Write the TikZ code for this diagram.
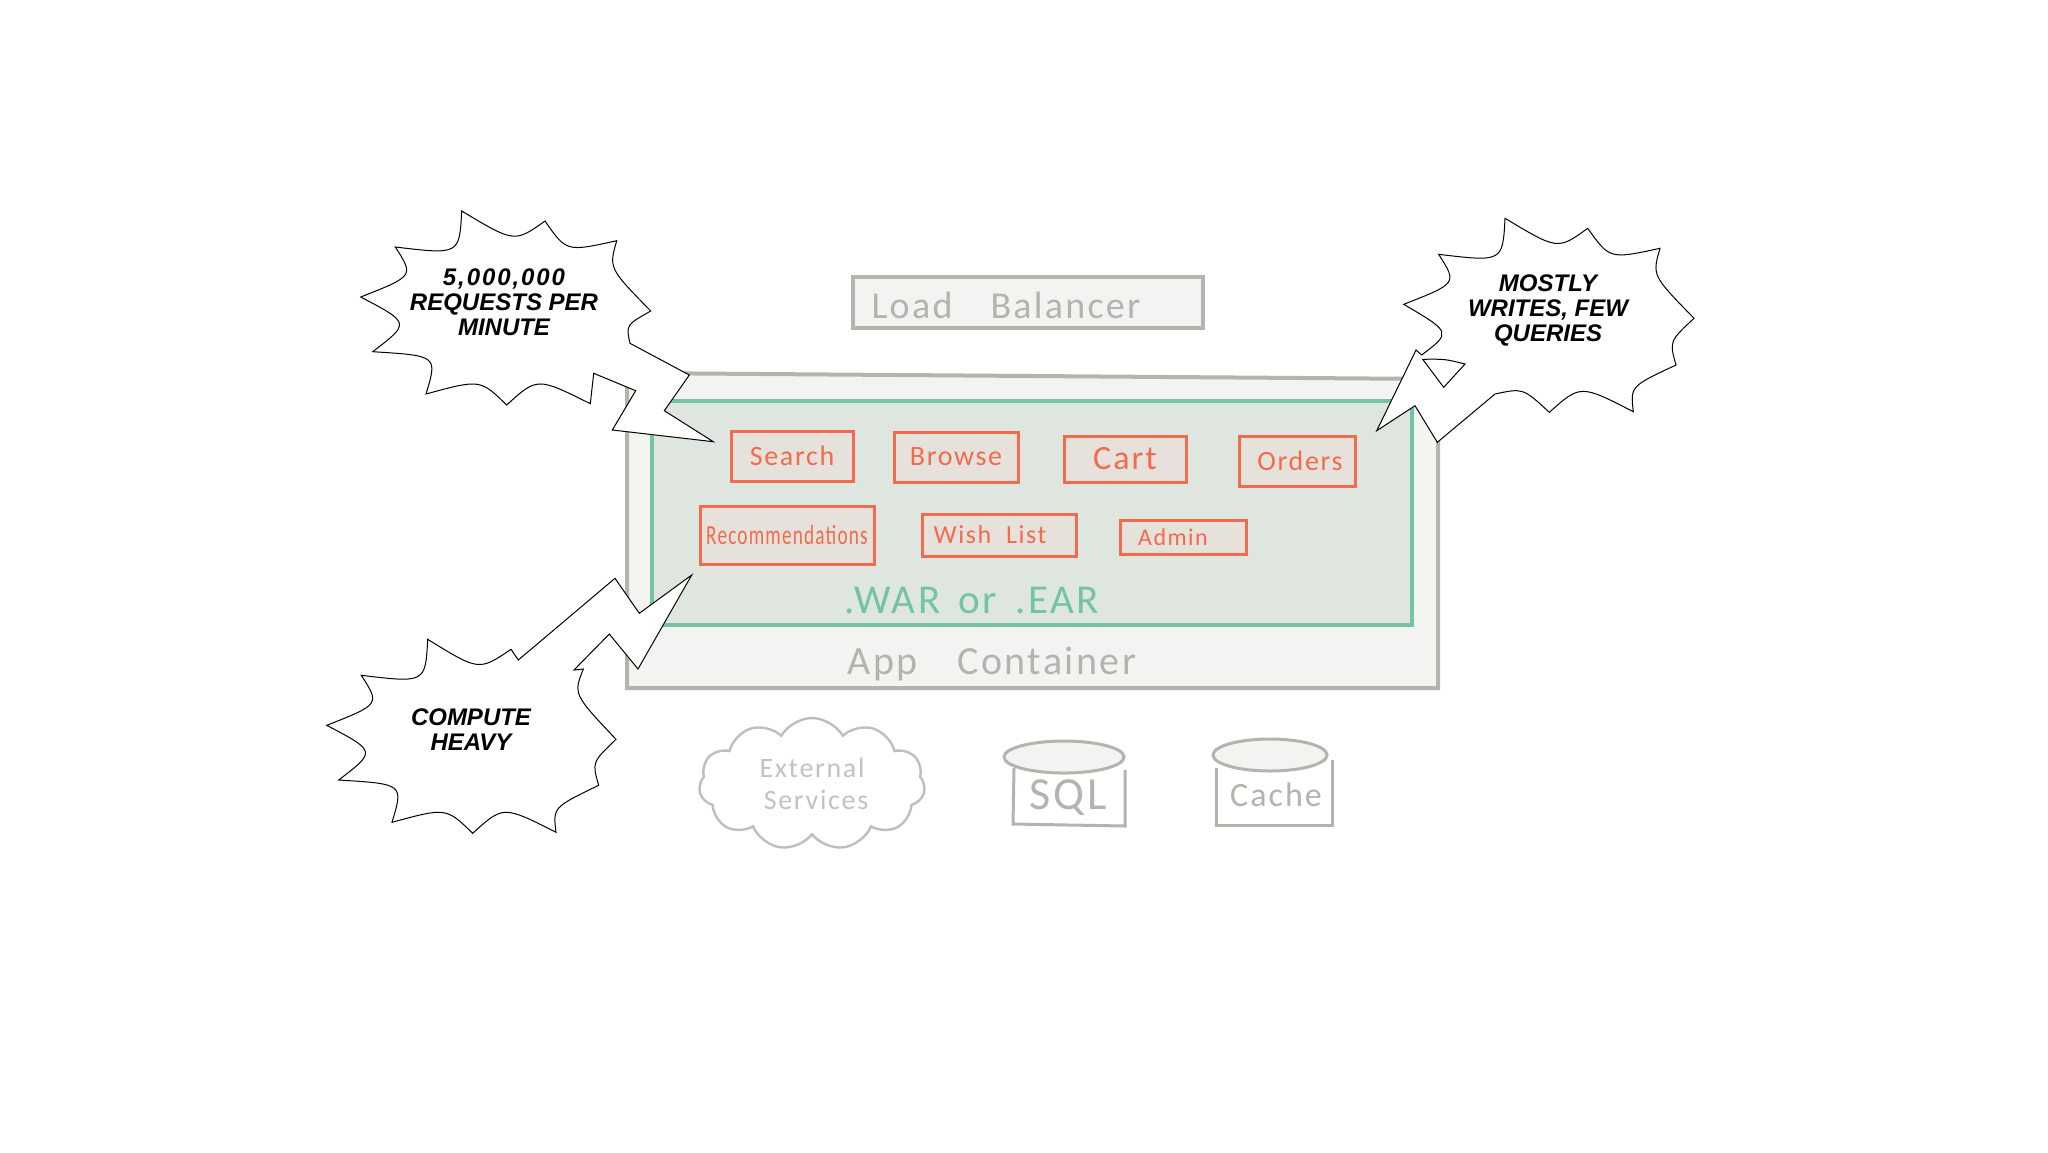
\documentclass[tikz,border=0pt]{standalone}
\usepackage{fontspec}
\setmainfont{Carlito}
\newfontfamily\sketchfont[LetterSpace=6]{Carlito}
\newfontfamily\comicfont{Liberation Sans}
\usetikzlibrary{shapes.geometric,shapes.symbols}
\definecolor{shellgray}{HTML}{B4B4AE}
\definecolor{shellfill}{HTML}{F3F3F1}
\definecolor{warfill}{HTML}{DFE6E0}
\definecolor{wargreen}{HTML}{72C4A5}
\definecolor{svcred}{HTML}{F26B4C}
\definecolor{svcfill}{HTML}{E6E1DB}
\begin{document}
\begin{tikzpicture}[x=0.5pt,y=-0.5pt]
  \tikzstyle{shell}=[draw=shellgray,fill=shellfill,line width=2pt,text=shellgray,font=\sketchfont\fontsize{17}{19}\selectfont]
  \tikzstyle{svc}=[draw=svcred,fill=svcfill,line width=1.5pt,text=svcred,inner sep=0pt,font=\sketchfont\fontsize{14}{16}\selectfont]
  \tikzstyle{store}=[draw=shellgray,line width=1.5pt]
  \tikzstyle{storetop}=[ellipse,draw=shellgray,fill=shellfill,line width=1.5pt,inner sep=0pt]
  \tikzstyle{burst}=[draw=black,fill=white,line width=0.5pt,line join=miter]
  \tikzstyle{shout}=[align=center,text=black,inner sep=0pt,font=\comicfont\bfseries\itshape\fontsize{12}{12.5}\selectfont]
  \useasboundingbox (0,0) rectangle (2048,1152);
  \fill[white] (0,0) rectangle (2048,1152);
  \node[shell,minimum width=175pt,minimum height=25.5pt,inner sep=0pt] (balancer) at (1028,302) {};
  \node[text=shellgray,font=\sketchfont\fontsize{19}{21}\selectfont] (balancerlabel) at (1006,305) {Load\quad Balancer};
  \draw[shell] (627,373) -- (1438,379) -- (1438,688) -- (627,688) -- cycle;
  \node[draw=wargreen,fill=warfill,line width=2pt,minimum width=380pt,minimum height=112pt,inner sep=0pt] (war) at (1032,513) {};
  \node[svc,minimum width=61pt,minimum height=25pt] (search) at (792,456) {Search};
  \node[svc,minimum width=62pt,minimum height=25pt] (browse) at (956,457) {Browse};
  \node[svc,minimum width=61pt,minimum height=23pt,font=\sketchfont\fontsize{17}{19}\selectfont] (cart) at (1125,459) {Cart};
  \node[svc,minimum width=58pt,minimum height=25pt] (orders) at (1297,461) {\kern3pt Orders};
  \node[svc,minimum width=87pt,minimum height=29pt] (recs) at (787,535) {\scalebox{0.84}[1.2]{\fontsize{11.5}{13}\selectfont Recommendations}};
  \node[svc,minimum width=77pt,minimum height=21pt,font=\sketchfont\fontsize{13}{15}\selectfont] (wish) at (999,535) {Wish\ \ List\kern9pt};
  \node[svc,minimum width=63pt,minimum height=17pt,font=\sketchfont\fontsize{12}{14}\selectfont] (admin) at (1183,537) {Admin\kern10pt};
  \node[text=wargreen,font=\sketchfont\fontsize{20.5}{25}\selectfont] (warlabel) at (972,600) {.WAR\, or\, .EAR};
  \node[text=shellgray,font=\sketchfont\fontsize{20}{24}\selectfont] (applabel) at (992,664) {App\quad Container};
  \node[cloud,cloud puffs=11,cloud puff arc=120,aspect=1.7,draw=shellgray!85,line width=1.2pt,minimum width=113pt,minimum height=66pt,inner sep=0pt,align=center,text=shellgray!80,font=\sketchfont\fontsize{14}{16}\selectfont] (external) at (812,784) {External\\\kern4pt Services};
  \draw[store] (1014,768) -- (1013,824) -- (1125,826) -- (1125,770);
  \node[storetop,minimum width=60pt,minimum height=16pt] (sqltop) at (1064,757) {};
  \node[text=shellgray,font=\sketchfont\fontsize{23}{25}\selectfont] (sql) at (1068,798) {SQL};
  \draw[store] (1216,768) -- (1216,825) -- (1332,825) -- (1332,760);
  \node[storetop,minimum width=57pt,minimum height=16pt] (cachetop) at (1270,755) {};
  \node[text=shellgray,font=\sketchfont\fontsize{17}{19}\selectfont] (cache) at (1276,795) {Cache};
  \draw[burst] (461.7,211) .. controls (514.5,242.7) .. (545,221) .. controls (566.4,251.9) .. (616.7,240.7)
    .. controls (608.8,268.1) .. (650.7,311) .. controls (626,325) .. (630,343.3)
    -- (689.3,375) -- (664.3,410.7) -- (713.3,441.7) -- (612.3,430) -- (635.7,390.7) -- (593.7,373.3) -- (590.3,403.7)
    .. controls (537.2,377.2) .. (506.7,405) .. controls (480.2,379.2) .. (426,394)
    .. controls (437.6,355.7) .. (372.7,351.7) .. controls (410.2,323) .. (360.7,297)
    .. controls (414,276) .. (395.3,247) .. controls (459.4,254.7) .. cycle;
  \node[shout] (rate) at (504,302) {\addfontfeature{LetterSpace=8}5,000,000\\REQUESTS PER\\MINUTE};
  \draw[burst] (1505,218.3) .. controls (1557.8,250) .. (1587.7,228.3) .. controls (1609.7,259.2) .. (1660,248.3)
    .. controls (1652.1,275.4) .. (1694,318.3) .. controls (1669.3,341.3) .. (1676,365)
    .. controls (1630.3,386.3) .. (1633.3,411.7) .. controls (1580.5,384.5) .. (1549.3,412.3)
    .. controls (1523,388) .. (1495,394) -- (1437.3,442.3) -- (1415,405.7) -- (1376.7,430.7) -- (1416,350) -- (1421.7,355)
    .. controls (1451.4,332.4) .. (1403.7,304.3) .. controls (1457.3,283.3) .. (1438.6,254.3)
    .. controls (1502.7,262) .. cycle;
  \draw[burst] (1422.7,359.3) .. controls (1445,359) .. (1465,364) -- (1443.7,387.3) -- cycle;
  \node[shout] (writes) at (1548,310) {MOSTLY\\WRITES, FEW\\QUERIES};
  \draw[burst] (427.7,639.3) .. controls (479,671) .. (511,649.3) -- (518.3,660) -- (615,578.3) -- (639.3,613.3)
    -- (691.7,575) -- (638,669) -- (609.3,634) -- (574,670) -- (583.3,669)
    .. controls (573.4,694.2) .. (616,739.3) .. controls (592,762.3) .. (598.7,785.3)
    .. controls (553,807.3) .. (556,832.3) .. controls (503.2,805.5) .. (472.7,833.3)
    .. controls (446.2,807.5) .. (392,822.3) .. controls (403.6,784) .. (338.7,780)
    .. controls (376.2,751.3) .. (326.7,725.3) .. controls (380,704.3) .. (361.3,675.3)
    .. controls (425.4,683) .. cycle;
  \node[shout] (compute) at (471,730) {COMPUTE\\HEAVY};
\end{tikzpicture}
\end{document}
